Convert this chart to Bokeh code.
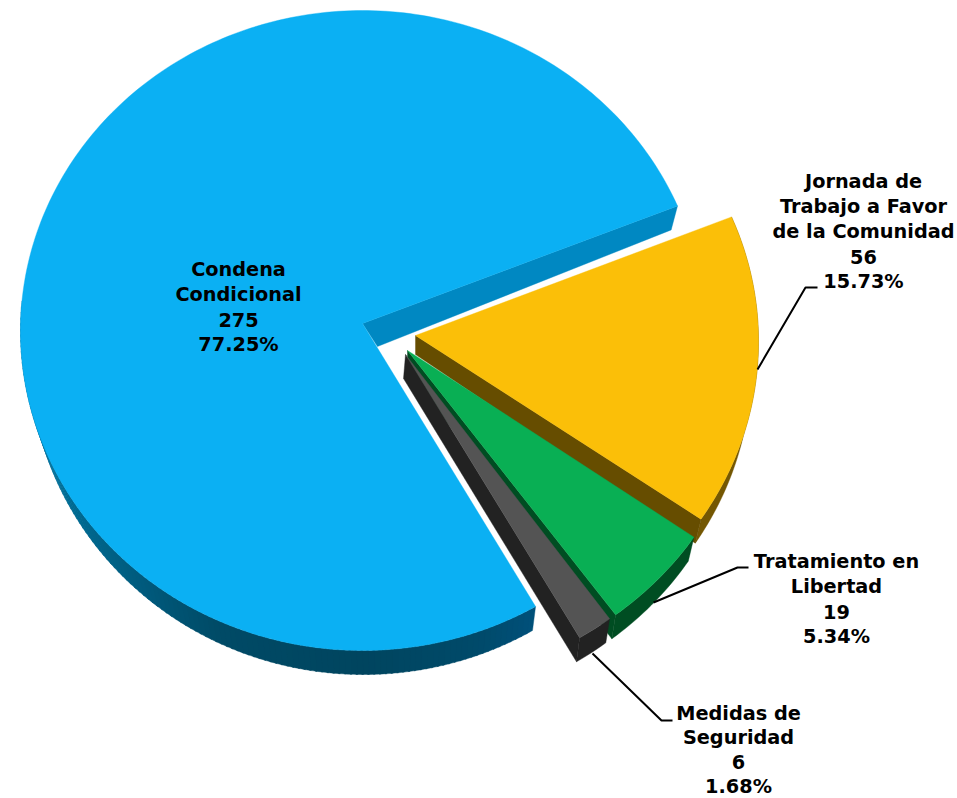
import math
from bokeh.plotting import figure
from bokeh.embed import file_html
from bokeh.resources import INLINE
from bokeh.core.properties import value

categories = ["Condena Condicional", "Jornada de Trabajo a Favor de la Comunidad",
              "Tratamiento en Libertad", "Medidas de Seguridad"]
counts = [275, 56, 19, 6]
percents = ["77.25%", "15.73%", "5.34%", "1.68%"]
label_names = [["Condena", "Condicional"],
               ["Jornada de", "Trabajo a Favor", "de la Comunidad"],
               ["Tratamiento en", "Libertad"],
               ["Medidas de", "Seguridad"]]

W, H = 957, 798
FONT = "DejaVu Sans"
FS = "19.3px"

top_colors = ["#0BB0F3", "#FBBF08", "#09AF54", "#545454"]
cut_colors = ["#0088C2", "#664D00", "#004D22", "#222222"]
rim_colors = [None, "#745702", "#004D22", "#222222"]

CX, CY, RX, RY = 362, 330, 342, 320
START = 59.0
BLUE_TRIM = 0.6
apex_top = [(362, 323), (415, 335), (407, 350), (405, 354)]
shift = [(0, 0), (54, 11), (47, 29), (41, 33)]
apex_base = [(377, 346), (415, 354), (407, 370), (403, 378)]

p = figure(width=W, height=H, x_range=(0, W), y_range=(H, 0),
           output_backend="svg", toolbar_location=None, min_border=0,
           outline_line_color=None, background_fill_color="white")
p.axis.visible = False
p.grid.visible = False


def top_pt(a, s):
    t = math.radians(a)
    return CX + s[0] + RX * math.cos(t), CY + s[1] + RY * math.sin(t)


def base_pt(a, s):
    t = math.radians(a)
    return CX + s[0] + 1 + (RX - 8) * math.cos(t), CY + s[1] + 24 + RY * math.sin(t)


def arc(fn, a0, a1, s, n=None):
    n = n or max(2, int(abs(a1 - a0)))
    return [fn(a0 + (a1 - a0) * i / n, s) for i in range(n + 1)]


def draw(pts, color):
    p.patch([q[0] for q in pts], [q[1] for q in pts], fill_color=color,
            line_color=color, line_width=0.4)


def mix(c0, c1, f):
    a = [int(c0[i:i + 2], 16) for i in (1, 3, 5)]
    b = [int(c1[i:i + 2], 16) for i in (1, 3, 5)]
    return "#%02x%02x%02x" % tuple(round(x + (y - x) * f) for x, y in zip(a, b))


total = sum(counts)
spans = []
a = START
for c in counts:
    spans.append((a, a + 360 * c / total))
    a += 360 * c / total
spans[0] = (spans[0][0] + BLUE_TRIM, spans[0][1])

# Blue slice: rim shaded strips then far cut face
blue_stops = [(spans[0][0], "#00507A"), (70, "#004A6A"), (90, "#00455F"), (115, "#004A66"),
              (130, "#005A7C"), (150, "#006C94"), (185, "#1E88B4")]
for (a0, c0), (a1, c1) in zip(blue_stops, blue_stops[1:]):
    steps = max(1, int(a1 - a0))
    for k in range(steps):
        s0 = a0 + (a1 - a0) * k / steps
        s1 = a0 + (a1 - a0) * (k + 1) / steps
        pts = arc(top_pt, s0, s1 + 0.3, shift[0], 2) + arc(base_pt, s1 + 0.3, s0, shift[0], 2)
        draw(pts, mix(c0, c1, (k + 0.5) / steps))

s0, s1 = spans[0]
draw([apex_top[0], top_pt(s1, shift[0]), base_pt(s1, shift[0]), apex_base[0]], cut_colors[0])
draw([apex_top[0]] + arc(top_pt, s0, s1, shift[0]), top_colors[0])

# Other slices, back to front
for i in (1, 2, 3):
    a0, a1 = spans[i]
    s = shift[i]
    draw(arc(top_pt, a0, a1, s) + arc(base_pt, a1, a0, s), rim_colors[i])
    draw([apex_top[i], top_pt(a1, s), base_pt(a1, s), apex_base[i]], cut_colors[i])
    draw([apex_top[i]] + arc(top_pt, a0, a1, s), top_colors[i])

# Leader lines
leaders = [([757, 805, 817], [369, 287, 287]),
           ([653, 737, 748], [602, 567, 567]),
           ([592, 661, 672], [653, 720, 720])]
for xs, ys in leaders:
    p.line(xs, ys, line_color="black", line_width=2)

# Labels
label_x = [238, 863, 836, 738]
label_y = [269, 181, 561, 713]
LINE = [25, 25, 25, 24.4]
for i in range(4):
    lines = label_names[i] + [str(counts[i]), percents[i]]
    for j, t in enumerate(lines):
        p.text([label_x[i]], [label_y[i] + j * LINE[i]], text=[t], text_align="center",
               text_baseline="middle", text_font=value(FONT), text_font_style="bold",
               text_font_size=FS, text_color="black")

open("out.html", "w").write(file_html(p, INLINE))
